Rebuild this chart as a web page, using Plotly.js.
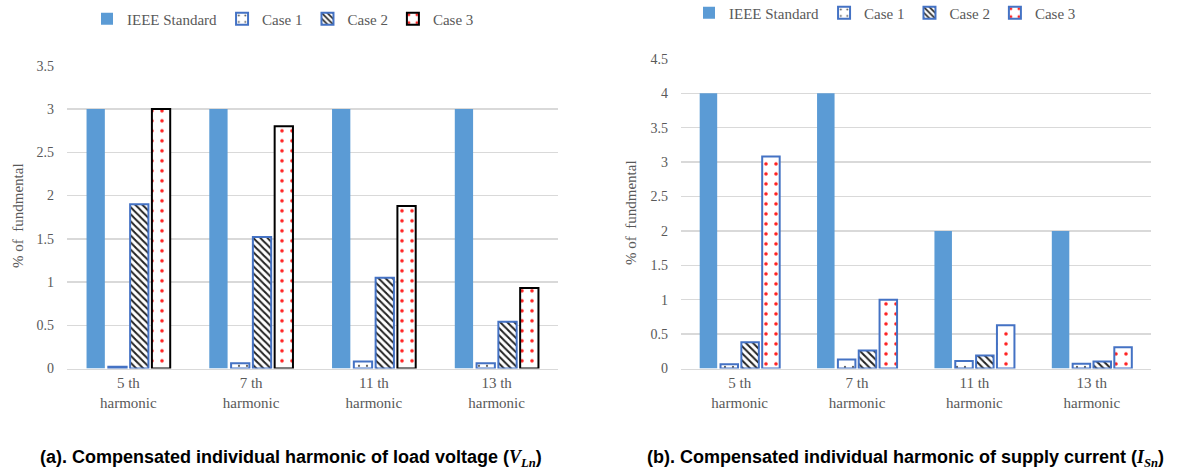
<!DOCTYPE html>
<html>
<head>
<meta charset="utf-8">
<script src="https://cdn.plot.ly/plotly-3.0.1.min.js"></script>
<style>html,body{margin:0;padding:0;background:#fff;}#chart{width:1178px;height:471px;}</style>
</head>
<body>
<div id="chart"></div>
<script>
const categories = ["5 th<br>harmonic", "7 th<br>harmonic", "11 th<br>harmonic", "13 th<br>harmonic"];
const seriesNames = ["IEEE Standard", "Case 1", "Case 2", "Case 3"];

// (a) load voltage harmonics, % of fundamental
const voltIEEE = [3, 3, 3, 3];
const voltCase1 = [0.02, 0.06, 0.08, 0.06];
const voltCase2 = [1.9, 1.52, 1.05, 0.54];
const voltCase3 = [3.0, 2.8, 1.88, 0.93];

// (b) supply current harmonics, % of fundamental
const currIEEE = [4, 4, 2, 2];
const currCase1 = [0.06, 0.13, 0.11, 0.07];
const currCase2 = [0.38, 0.26, 0.19, 0.1];
const currCase3 = [3.08, 1.0, 0.63, 0.31];

const W = 1178, H = 471;
const px = v => v / W;
const py = v => (H - v) / H;

const blue = '#5B9BD5';
const edge = '#4472C4';
const serif = 'Liberation Serif, Times New Roman, serif';

function traces(vals, xa, ya, leg, case3Edge) {
  return [
    {type: 'bar', name: seriesNames[0], x: categories, y: vals[0], xaxis: xa, yaxis: ya, legend: leg,
     marker: {color: blue, line: {width: 0}}},
    {type: 'bar', name: seriesNames[1], x: categories, y: vals[1], xaxis: xa, yaxis: ya, legend: leg,
     marker: {color: 'white', line: {color: edge, width: 2},
              pattern: {shape: '.', fgcolor: '#444', bgcolor: 'white', size: 8, solidity: 0.06}}},
    {type: 'bar', name: seriesNames[2], x: categories, y: vals[2], xaxis: xa, yaxis: ya, legend: leg,
     marker: {color: 'white', line: {color: edge, width: 2},
              pattern: {shape: '\\', fgcolor: '#222', bgcolor: 'white', size: 5, solidity: 0.4}}},
    {type: 'bar', name: seriesNames[3], x: categories, y: vals[3], xaxis: xa, yaxis: ya, legend: leg,
     marker: {color: 'white', line: {color: case3Edge, width: 2},
              pattern: {shape: '.', fgcolor: '#FF2020', bgcolor: 'white', size: 10, solidity: 0.1}}}
  ];
}

const data = [
  ...traces([voltIEEE, voltCase1, voltCase2, voltCase3], 'x', 'y', 'legend', '#000000'),
  ...traces([currIEEE, currCase1, currCase2, currCase3], 'x2', 'y2', 'legend2', edge)
];

const tickFont = {family: serif, size: 14, color: '#595959'};
const xCommon = {type: 'category', showgrid: false, showline: true, linecolor: '#D9D9D9', linewidth: 1.5,
  ticks: '', tickfont: {family: serif, size: 15, color: '#595959'}, automargin: false, fixedrange: true};
const yCommon = {showgrid: true, gridcolor: '#D9D9D9', gridwidth: 1.5, zeroline: false, showline: false,
  ticks: '', tickfont: tickFont, dtick: 0.5, ticklabelstandoff: 12, automargin: false, fixedrange: true};

const legendFont = {family: serif, size: 15, color: '#595959'};

const layout = {
  width: W, height: H,
  margin: {l: 0, r: 0, t: 0, b: 0, autoexpand: false},
  paper_bgcolor: 'white', plot_bgcolor: 'white',
  font: {family: serif},
  barmode: 'group', bargap: 0.29, bargroupgap: 0.16,
  showlegend: true,
  xaxis: Object.assign({}, xCommon, {domain: [px(67), px(558)], anchor: 'y', range: [-0.5, 3.5]}),
  yaxis: Object.assign({}, yCommon, {domain: [py(368.5), py(65.8)], anchor: 'x', range: [0, 3.5]}),
  xaxis2: Object.assign({}, xCommon, {domain: [px(681), px(1150.5)], anchor: 'y2', range: [-0.5, 3.5]}),
  yaxis2: Object.assign({}, yCommon, {domain: [py(368.5), py(58.9)], anchor: 'x2', range: [0, 4.5]}),
  legend: {orientation: 'h', xref: 'container', yref: 'container', x: px(87), y: py(19),
           xanchor: 'left', yanchor: 'middle', font: legendFont,
           bgcolor: 'rgba(0,0,0,0)', itemwidth: 30, traceorder: 'normal'},
  legend2: {orientation: 'h', xref: 'container', yref: 'container', x: px(689), y: py(13),
            xanchor: 'left', yanchor: 'middle', font: legendFont,
            bgcolor: 'rgba(0,0,0,0)', itemwidth: 30, traceorder: 'normal'},
  annotations: [
    {xref: 'paper', yref: 'paper', x: px(18), y: py(216), xanchor: 'center', yanchor: 'middle',
     text: '% of  fundmental', textangle: -90,
     showarrow: false, font: {family: serif, size: 15, color: '#595959'}},
    {xref: 'paper', yref: 'paper', x: px(631), y: py(213), xanchor: 'center', yanchor: 'middle',
     text: '% of  fundmental', textangle: -90,
     showarrow: false, font: {family: serif, size: 15, color: '#595959'}},
    {xref: 'paper', yref: 'paper', x: px(291), y: py(458), xanchor: 'center', yanchor: 'middle',
     text: '<b>(a). Compensated individual harmonic of load voltage (</b><span style="font-family:Liberation Serif"><b><i>V<sub>Ln</sub></i></b></span><b>)</b>',
     showarrow: false, font: {family: 'Liberation Sans, Arial, sans-serif', size: 18, color: '#000'}},
    {xref: 'paper', yref: 'paper', x: px(905), y: py(458), xanchor: 'center', yanchor: 'middle',
     text: '<b>(b). Compensated individual harmonic of supply current (</b><span style="font-family:Liberation Serif"><b><i>I<sub>Sn</sub></i></b></span><b>)</b>',
     showarrow: false, font: {family: 'Liberation Sans, Arial, sans-serif', size: 18, color: '#000'}}
  ]
};

Plotly.newPlot('chart', data, layout, {displayModeBar: false, staticPlot: true});
</script>
</body>
</html>
